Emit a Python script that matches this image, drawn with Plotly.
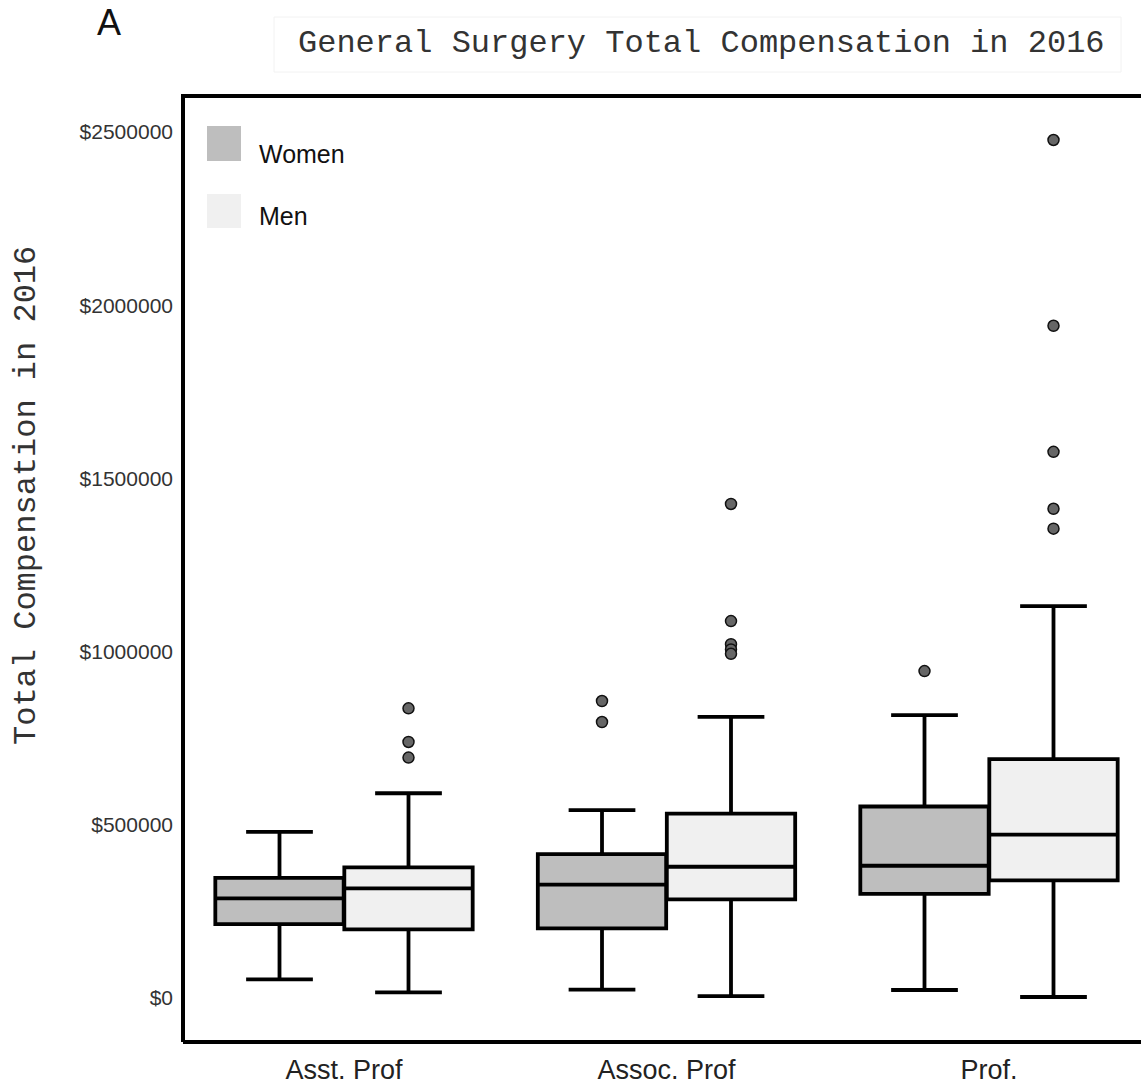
import plotly.graph_objects as go

categories = ["Asst. Prof", "Assoc. Prof", "Prof."]

women_lower = [53900, 23900, 23100]
women_q1 = [213400, 201000, 300700]
women_median = [287500, 327300, 381800]
women_q3 = [346900, 415200, 552800]
women_upper = [479500, 542100, 816900]
women_outliers = [[], [857300, 796700], [943800]]

men_lower = [16400, 5200, 2900]
men_q1 = [198100, 284600, 339400]
men_median = [316300, 378900, 471500]
men_q3 = [376900, 532300, 689700]
men_upper = [591100, 811400, 1131500]
men_outliers = [[836200, 739100, 694100],
                [1426200, 1088000, 1021300, 1006300, 993700],
                [2476900, 1940600, 1576700, 1412300, 1355000]]

y_ticks = [0, 500000, 1000000, 1500000, 2000000, 2500000]
y_ticktext = ["$0", "$500000", "$1000000", "$1500000", "$2000000", "$2500000"]

W, H = 1141, 1087
L, R, T, B = 183, 0, 96, 47
PW = W - L - R
PH = H - T - B

def px(xp):
    return (xp - L) / PW

def py(yp):
    return (H - B - yp) / PH

women_fill = "#bebebe"
men_fill = "#f0f0f0"
offset = 0.2
bw = 0.398

fig = go.Figure()

groups = [
    ("Women", -offset, women_fill, women_lower, women_q1, women_median, women_q3, women_upper, women_outliers),
    ("Men", offset, men_fill, men_lower, men_q1, men_median, men_q3, men_upper, men_outliers),
]

for name, off, fill, lo, q1, med, q3, up, outl in groups:
    xs = [i + off for i in range(len(categories))]
    fig.add_trace(go.Box(
        name=name, x=xs, lowerfence=lo, q1=q1, median=med, q3=q3, upperfence=up,
        width=bw, whiskerwidth=0.52, fillcolor=fill,
        line=dict(color="black", width=3.8), boxpoints=False, showlegend=False,
    ))
    ox, oy = [], []
    for i, vals in enumerate(outl):
        for v in vals:
            ox.append(i + off)
            oy.append(v)
    fig.add_trace(go.Scatter(
        x=ox, y=oy, mode="markers", showlegend=False,
        marker=dict(size=11, color="#666666", line=dict(color="#111111", width=1.5)),
    ))

shapes = [
    dict(type="line", xref="paper", yref="paper", x0=0, x1=0, y0=-0.002, y1=1.002,
         line=dict(color="black", width=4), layer="above"),
    dict(type="line", xref="paper", yref="paper", x0=0, x1=1.01, y0=1, y1=1,
         line=dict(color="black", width=4), layer="above"),
    dict(type="line", xref="paper", yref="paper", x0=0, x1=1.01, y0=-0.002, y1=-0.002,
         line=dict(color="black", width=4), layer="above"),
    dict(type="rect", xref="paper", yref="paper", x0=px(274), x1=px(1121), y0=py(72), y1=py(17),
         line=dict(color="#f2f2f2", width=1)),
    dict(type="rect", xref="paper", yref="paper", x0=px(207), x1=px(241), y0=py(161), y1=py(126),
         fillcolor=women_fill, line=dict(width=0)),
    dict(type="rect", xref="paper", yref="paper", x0=px(207), x1=px(241), y0=py(228), y1=py(194),
         fillcolor=men_fill, line=dict(width=0)),
]

annotations = [
    dict(text="General Surgery Total Compensation in 2016", xref="paper", yref="paper",
         x=px(296), y=py(43), xanchor="left", yanchor="middle", showarrow=False,
         font=dict(family="Liberation Mono, Courier New, monospace", size=32, color="#333333")),
    dict(text="A", xref="paper", yref="paper", x=px(109), y=py(23), xanchor="center", yanchor="middle",
         showarrow=False, font=dict(family="Liberation Sans, Arial, sans-serif", size=36, color="#111111")),
    dict(text="Total Compensation in 2016", xref="paper", yref="paper", x=px(26), y=py(496),
         xanchor="center", yanchor="middle", textangle=-90, showarrow=False,
         font=dict(family="Liberation Mono, Courier New, monospace", size=32, color="#333333")),
    dict(text="Women", xref="paper", yref="paper", x=px(257), y=py(154), xanchor="left", yanchor="middle",
         showarrow=False, font=dict(family="Liberation Sans, Arial, sans-serif", size=25, color="#111111")),
    dict(text="Men", xref="paper", yref="paper", x=px(257), y=py(216), xanchor="left", yanchor="middle",
         showarrow=False, font=dict(family="Liberation Sans, Arial, sans-serif", size=25, color="#111111")),
]

unit = 322.5
x0 = -(344 - L) / unit
x1 = x0 + PW / unit
ppm = 346.4
y_lo = -(H - B - 998) / ppm * 1e6
y_hi = (998 - T) / ppm * 1e6

fig.update_layout(
    width=W, height=H, margin=dict(l=L, r=R, t=T, b=B, pad=0, autoexpand=False),
    paper_bgcolor="white", plot_bgcolor="white",
    showlegend=False, boxmode="overlay",
    shapes=shapes, annotations=annotations,
    xaxis=dict(range=[x0, x1], tickvals=list(range(len(categories))), ticktext=categories,
               showgrid=False, zeroline=False, showline=False, ticks="", automargin=False,
               ticklabelstandoff=11,
               tickfont=dict(family="Liberation Sans, Arial, sans-serif", size=27, color="#222222")),
    yaxis=dict(range=[y_lo, y_hi], tickvals=y_ticks, ticktext=y_ticktext,
               showgrid=False, zeroline=False, showline=False, ticks="", automargin=False,
               ticklabelstandoff=9,
               tickfont=dict(family="Liberation Sans, Arial, sans-serif", size=21, color="#333333")),
)

fig.write_html("out.html")
